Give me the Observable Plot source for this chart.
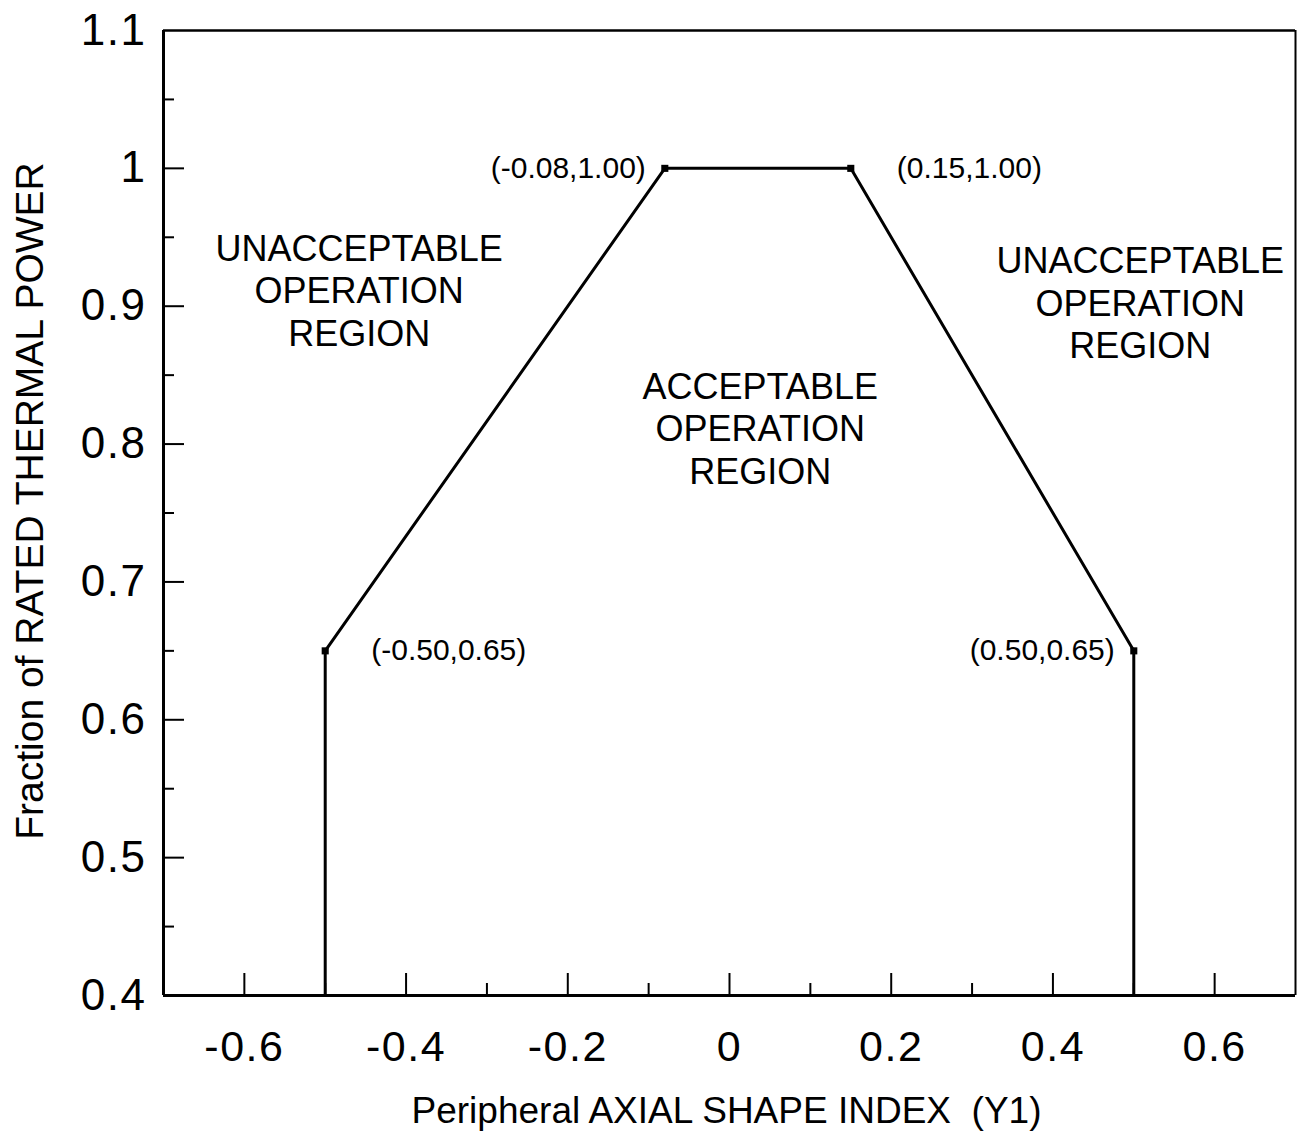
<!DOCTYPE html>
<html>
<head>
<meta charset="utf-8">
<script src="https://cdn.jsdelivr.net/npm/d3@7"></script>
<script src="https://cdn.jsdelivr.net/npm/@observablehq/plot@0.6"></script>
<style>
  html, body { margin: 0; padding: 0; background: #fff; }
  #chart svg { display: block; }
  #chart svg g[aria-label="x-axis tick label"] text,
  #chart svg g[aria-label="y-axis tick label"] text { letter-spacing: 1.5px; }
</style>
</head>
<body>
<div id="chart"></div>
<script>
// ---- data ----
const xDomain = [-0.7, 0.7];
const yDomain = [0.4, 1.1];
const xTicks = [-0.6, -0.4, -0.2, 0, 0.2, 0.4, 0.6];
const xMinorTicks = [-0.5, -0.3, -0.1, 0.1, 0.3, 0.5];
const yTicks = [0.4, 0.5, 0.6, 0.7, 0.8, 0.9, 1.0, 1.1];
const yMajorTickMarks = [0.5, 0.6, 0.7, 0.8, 0.9, 1.0];
const yMinorTicks = [0.45, 0.55, 0.65, 0.75, 0.85, 0.95, 1.05];

// limit line (boundary of acceptable operation)
const boundaryX = [-0.5, -0.5, -0.08, 0.15, 0.5, 0.5];
const boundaryY = [0.4, 0.65, 1.0, 1.0, 0.65, 0.4];

// labelled vertices
const vertexX = [-0.5, -0.08, 0.15, 0.5];
const vertexY = [0.65, 1.0, 1.0, 0.65];
const vertexSide = ["right", "left", "right", "left"];

// region annotations
const regionText = [
  "UNACCEPTABLE\nOPERATION\nREGION",
  "UNACCEPTABLE\nOPERATION\nREGION",
  "ACCEPTABLE\nOPERATION\nREGION"
];
const regionX = [-0.458, 0.508, 0.038];
const regionY = [0.912, 0.903, 0.812];

const xTitle = "Peripheral AXIAL SHAPE INDEX\u00a0\u00a0(Y1)";
const yTitle = "Fraction of RATED THERMAL POWER";

// ---- build ----
const W = 1311, H = 1144;
const mL = 163, mR = 16, mT = 30, mB = 149;
const plotW = W - mL - mR, plotH = H - mT - mB;

const boundary = boundaryX.map((x, i) => ({x, y: boundaryY[i]}));
const vertices = vertexX.map((x, i) => ({x, y: vertexY[i], side: vertexSide[i],
  label: `(${x.toFixed(2)},${vertexY[i].toFixed(2)})`}));
const regions = regionText.map((t, i) => ({t, x: regionX[i], y: regionY[i]}));
const fmt = d => String(+d.toFixed(2));

const chart = Plot.plot({
  width: W, height: H,
  marginLeft: mL, marginRight: mR, marginTop: mT, marginBottom: mB,
  style: {fontFamily: "'Liberation Sans', Arial, Helvetica, sans-serif", background: "#fff", color: "#000"},
  x: {domain: xDomain},
  y: {domain: yDomain},
  marks: [
    // frame
    Plot.ruleX([xDomain[0]], {strokeWidth: 3}),
    Plot.ruleY([yDomain[0]], {strokeWidth: 3}),
    Plot.ruleX([xDomain[1]], {strokeWidth: 2}),
    Plot.ruleY([yDomain[1]], {strokeWidth: 2.5}),
    // inward ticks
    Plot.ruleY(yMajorTickMarks, {insetRight: plotW - 21, strokeWidth: 2}),
    Plot.ruleY(yMinorTicks, {insetRight: plotW - 11, strokeWidth: 2}),
    Plot.ruleX(xTicks, {insetTop: plotH - 22, strokeWidth: 2}),
    Plot.ruleX(xMinorTicks, {insetTop: plotH - 12, strokeWidth: 2}),
    // axes (labels only)
    Plot.axisX(xTicks, {tickSize: 0, tickPadding: 35, fontSize: 43, tickFormat: fmt, label: null}),
    Plot.axisY(yTicks, {tickSize: 0, tickPadding: 17, fontSize: 44, tickFormat: fmt, label: null}),
    // boundary
    Plot.line(boundary, {x: "x", y: "y", stroke: "#000", strokeWidth: 3}),
    Plot.dot(vertices, {x: "x", y: "y", symbol: "square", r: 4, fill: "#000"}),
    // vertex labels
    Plot.text(vertices.filter(d => d.side === "right"), {x: "x", y: "y", text: "label", textAnchor: "start", dx: 46, fontSize: 30}),
    Plot.text(vertices.filter(d => d.side === "left"), {x: "x", y: "y", text: "label", textAnchor: "end", dx: -19, fontSize: 30}),
    // region labels
    Plot.text(regions, {x: "x", y: "y", text: "t", fontSize: 36, lineHeight: 1.18, textAnchor: "middle"}),
    // titles
    Plot.text([xTitle], {frameAnchor: "bottom", dy: 127, dx: -3, fontSize: 37}),
    Plot.text([yTitle], {frameAnchor: "left", textAnchor: "middle", rotate: -90, dx: -133, dy: -12, fontSize: 39})
  ]
});
document.getElementById("chart").appendChild(chart);
</script>
</body>
</html>
